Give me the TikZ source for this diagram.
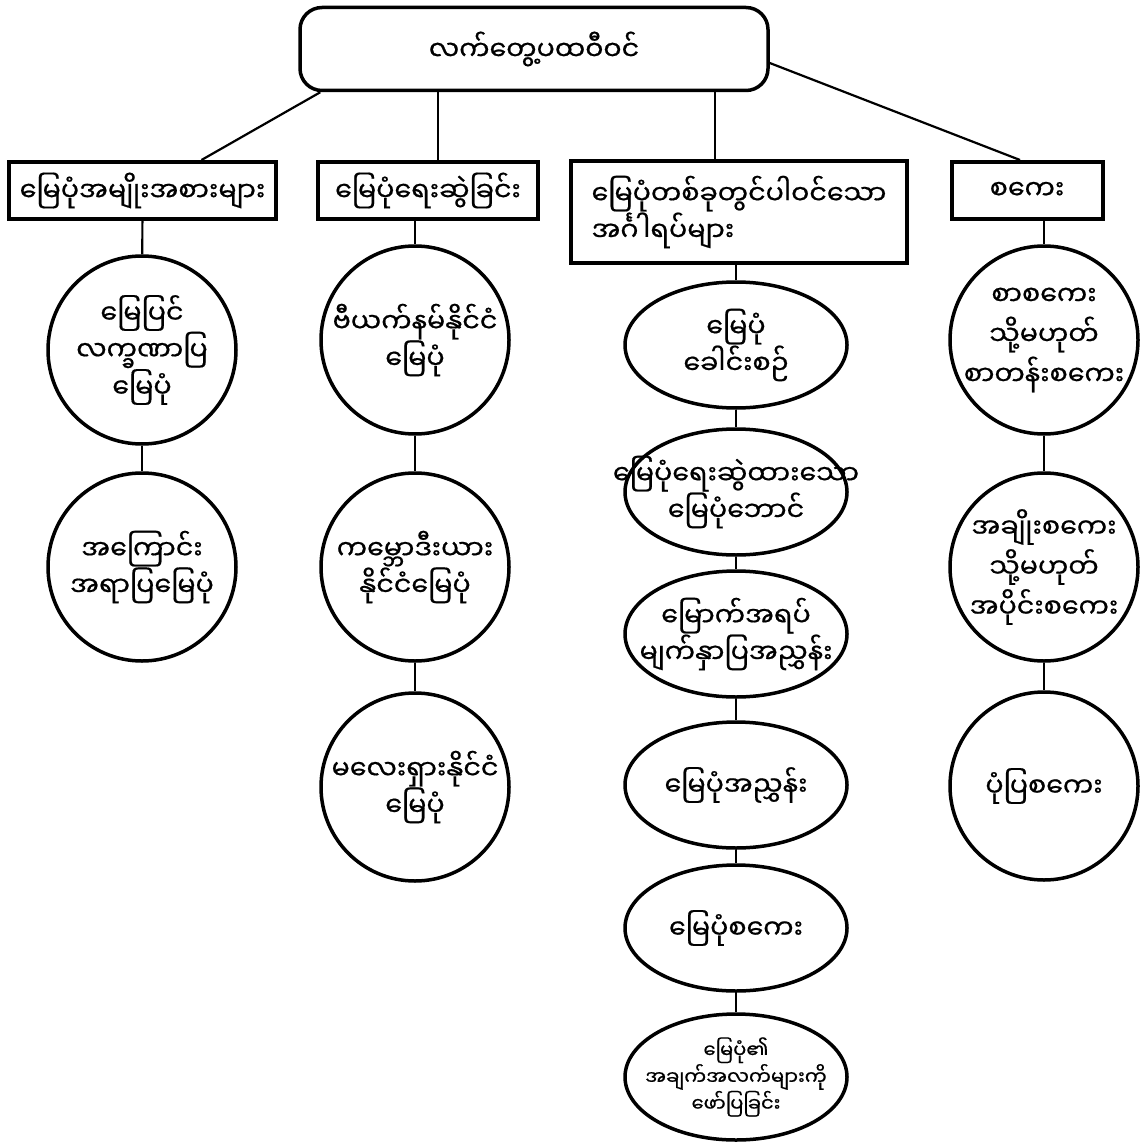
\documentclass[tikz,border=0pt]{standalone}
\usepackage{fontspec}
\newfontfamily\mmfont[Script=Myanmar, FakeBold=0.6]{Noto Sans Myanmar UI}
\usetikzlibrary{positioning, shapes, calc}

\begin{document}
\begin{tikzpicture}[x=1pt, y=-1pt,
    every node/.style={font=\mmfont\fontsize{27}{35}\selectfont},
    topbox/.style={draw, rounded corners=22pt, line width=3.5pt, minimum width=468pt, minimum height=83pt, inner sep=0pt},
    headbox/.style={draw, line width=4pt, minimum height=57pt, inner sep=0pt},
    bubble/.style={circle, draw, line width=3.5pt, minimum size=188pt, inner sep=0pt},
    oval/.style={ellipse, draw, line width=3.5pt, minimum width=222pt, minimum height=126pt, inner sep=0pt},
    lbl/.style={align=center, inner sep=0pt},
    widelbl/.style={lbl, font=\mmfont\fontsize{27}{40}\selectfont},
    link/.style={line width=2.2pt}]
  \path[fill=white, use as bounding box] (0,0) rectangle (1141,1142);

  % Nodes
  \node[topbox] (top) at (534,49) {လက်တွေ့ပထဝီဝင်};
  \node[headbox, minimum width=267pt] (box1) at (142.5,190.5) {မြေပုံအမျိုးအစားများ};
  \node[headbox, minimum width=220pt] (box2) at (428,190.5) {မြေပုံရေးဆွဲခြင်း};
  \node[headbox, minimum width=336pt, minimum height=101pt, align=left] (box3) at (739,212) {မြေပုံတစ်ခုတွင်ပါဝင်သော\\အင်္ဂါရပ်များ};
  \node[headbox, minimum width=151pt] (box4) at (1027,190.5) {စကေး};

  \node[bubble, label={[lbl]center:{မြေပြင်\\လက္ခဏာပြ\\မြေပုံ}}] (c11) at (142,350) {};
  \node[bubble, label={[lbl]center:{အကြောင်း\\အရာပြမြေပုံ}}] (c12) at (142,567) {};

  \node[bubble, label={[lbl]center:{ဗီယက်နမ်နိုင်ငံ\\မြေပုံ}}] (c21) at (415,340) {};
  \node[bubble, label={[lbl]center:{ကမ္ဘောဒီးယား\\နိုင်ငံမြေပုံ}}] (c22) at (415,567) {};
  \node[bubble, label={[lbl]center:{မလေးရှားနိုင်ငံ\\မြေပုံ}}] (c23) at (415,787) {};

  \node[oval, label={[lbl]center:{မြေပုံ\\ခေါင်းစဉ်}}] (e1) at (736,345) {};
  \node[oval, label={[lbl]center:{မြေပုံရေးဆွဲထားသော\\မြေပုံဘောင်}}] (e2) at (736,492) {};
  \node[oval, label={[lbl]center:{မြောက်အရပ်\\မျက်နှာပြအညွှန်း}}] (e3) at (736,634) {};
  \node[oval, label={[lbl]center:{မြေပုံအညွှန်း}}] (e4) at (736,785) {};
  \node[oval, label={[lbl]center:{မြေပုံစကေး}}] (e5) at (736,928) {};
  \node[oval, label={[lbl, font=\mmfont\fontsize{19.5}{25}\selectfont]center:{မြေပုံ၏\\အချက်အလက်များကို\\ဖော်ပြခြင်း}}] (e6) at (736,1077) {};

  \node[bubble, label={[widelbl]center:{စာစကေး\\သို့မဟုတ်\\စာတန်းစကေး}}] (c41) at (1044,340) {};
  \node[bubble, label={[widelbl]center:{အချိုးစကေး\\သို့မဟုတ်\\အပိုင်းစကေး}}] (c42) at (1044,567) {};
  \node[bubble, label={[lbl]center:{ပုံပြစကေး}}] (c43) at (1044,786) {};

  % Lines
  \draw[link] ([xshift=22pt]top.south west) -- ([xshift=59pt]box1.north);
  \draw[link] ([xshift=10pt]box2.north) -- ([xshift=10pt]box2.north |- top.south);
  \draw[link] ([xshift=-24pt]box3.north) -- ([xshift=-24pt]box3.north |- top.south);
  \draw[link] ([yshift=-14pt]top.east) -- ([xshift=-7pt]box4.north);

  \draw[link] (box1) -- (c11);
  \draw[link] (c21.north |- box2.south) -- (c21.north);
  \draw[link] (e1.north |- box3.south) -- (e1.north);
  \draw[link] (c41.north |- box4.south) -- (c41.north);
  \foreach \a/\b in {c11/c12, c21/c22, c22/c23, e1/e2, e2/e3, e3/e4, e4/e5, e5/e6, c41/c42, c42/c43}
  \draw[link] (\a) -- (\b);
\end{tikzpicture}
\end{document}
